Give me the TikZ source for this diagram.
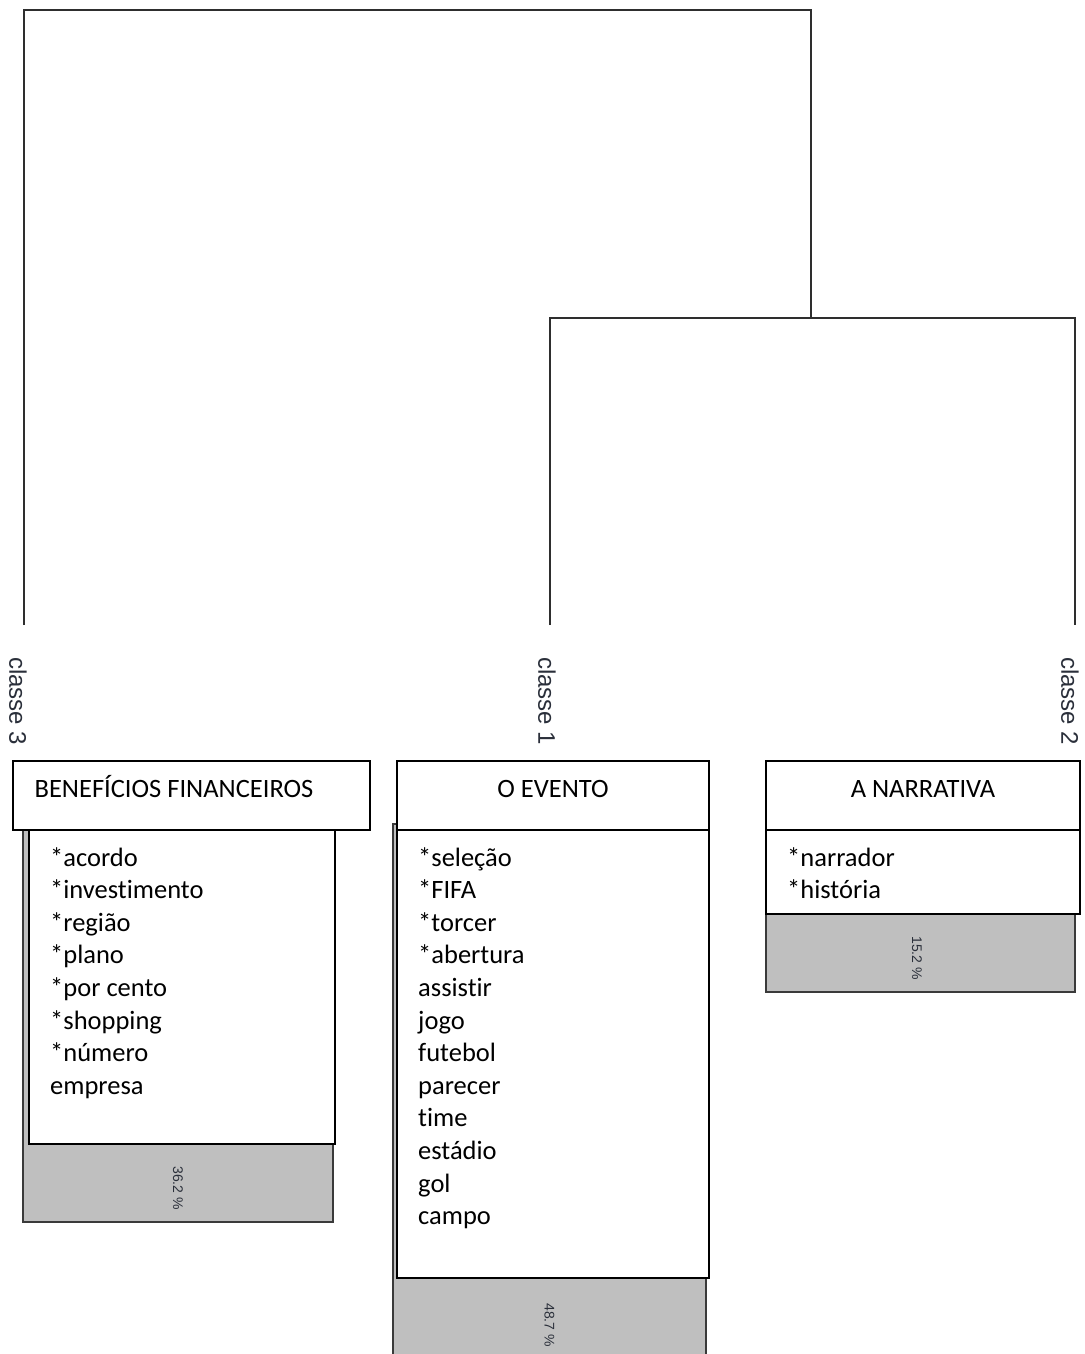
\documentclass[tikz,border=0pt]{standalone}
\usepackage{fontspec}
\setmainfont{Carlito}[Ligatures=NoCommon]
\newfontfamily\labfont{Liberation Sans}
\definecolor{dendro}{HTML}{2E2E2E}
\definecolor{barfill}{HTML}{BFBFBF}
\definecolor{barline}{HTML}{3A3A3A}
\definecolor{labcol}{HTML}{2A2F3A}
\begin{document}
\begin{tikzpicture}[x=1pt,y=-1pt,
  tree/.style={draw=dendro,line width=2pt},
  bar/.style={draw=barline,fill=barfill,line width=2pt},
  wbox/.style={draw=black,fill=white,line width=2pt,inner sep=0pt},
  word/.style={anchor=base west,inner sep=0pt,font=\fontsize{26.5}{32.6}\selectfont},
  ttl/.style={anchor=base,inner sep=0pt,font=\fontsize{26.5}{32.6}\selectfont},
  cls/.style={anchor=west,rotate=-90,inner sep=0pt,text=labcol,font=\labfont\fontsize{24}{28}\selectfont},
  pct/.style={rotate=-90,inner sep=0pt,text=labcol,font=\labfont\fontsize{14}{16}\selectfont}]
\useasboundingbox (0,0) rectangle (1084,1354);
% dendrogram
\coordinate (l3) at (24,625);
\coordinate (l1) at (550,625);
\coordinate (l2) at (1075,625);
\coordinate (m12) at (811,318);
\coordinate (root) at (811,10);
\draw[tree] (l3) |- (root) -- (m12);
\draw[tree] (l1) |- (m12) -| (l2);
% class labels
\node[cls] (c3) at (18,657) {classe 3};
\node[cls] (c1) at (547,657) {classe 1};
\node[cls] (c2) at (1070,657) {classe 2};
% grey bars
\draw[bar] (23,800) rectangle (333,1222);
\draw[bar] (393,824) rectangle (706,1364);
\draw[bar] (766,820) rectangle (1075,992);
% percentages
\node[pct] (p3) at (178,1188) {36.2 \%};
\node[pct] (p1) at (549.5,1325) {48.7 \%};
\node[pct] (p2) at (917,958) {15.2 \%};
% class 3 boxes
\node[wbox,minimum width=306,minimum height=314] (b3) at (182,987) {};
\node[wbox,minimum width=357,minimum height=69] (t3) at (191.5,795.5) {};
\node[ttl] (t3txt) at (174,797.5) {BENEFÍCIOS FINANCEIROS};
\foreach \w [count=\i] in {*acordo,*investimento,*região,*plano,*por cento,*shopping,*número,empresa}
  \node[word] (w3-\i) at (50,{866+32.6*(\i-1)}) {\w};
% class 1 boxes
\node[wbox,minimum width=312,minimum height=448] (b1) at (553,1054) {};
\node[wbox,minimum width=312,minimum height=69] (t1) at (553,795.5) {};
\node[ttl] (t1txt) at (553,797.5) {O EVENTO};
\foreach \w [count=\i] in {*seleção,*FIFA,*torcer,*abertura,assistir,jogo,futebol,parecer,time,estádio,gol,campo}
  \node[word] (w1-\i) at (418,{866+32.6*(\i-1)}) {\w};
% class 2 boxes
\node[wbox,minimum width=314,minimum height=84] (b2) at (923,872) {};
\node[wbox,minimum width=314,minimum height=69] (t2) at (923,795.5) {};
\node[ttl] (t2txt) at (923,797.5) {A NARRATIVA};
\foreach \w [count=\i] in {*narrador,*história}
  \node[word] (w2-\i) at (787,{866+32.6*(\i-1)}) {\w};
\end{tikzpicture}
\end{document}
